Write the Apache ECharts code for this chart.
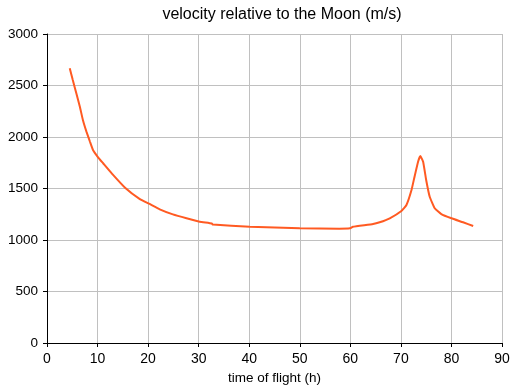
<!DOCTYPE html>
<html>
<head>
<meta charset="utf-8">
<script src="https://cdn.jsdelivr.net/npm/echarts@6/dist/echarts.min.js"></script>
<style>html,body{margin:0;padding:0;background:#fff;}#c{width:518px;height:391px;}</style>
</head>
<body>
<div id="c"></div>
<script>
var titleText = 'velocity relative to the Moon (m/s)';
var xName = 'time of flight (h)';
var time = [4.5, 5.1, 5.8, 6.5, 7.1, 7.8, 8.5, 9.1, 10.1, 11.1, 12.8, 15.5, 18.3, 20.3, 22.3, 24.9, 27.6, 30.2, 32.6, 32.8, 40.1, 50.0, 57.8, 59.9, 60.5, 64.5, 65.8, 67.8, 70.1, 71.1, 72.1, 72.7, 73.4, 73.85, 74.4, 75.0, 75.7, 76.7, 78.0, 80.0, 82.3, 84.3];
var velocity = [2667, 2553, 2424, 2294, 2165, 2052, 1954, 1874, 1803, 1745, 1647, 1505, 1400, 1350, 1298, 1249, 1211, 1178, 1160, 1150, 1129, 1113, 1110, 1113, 1128, 1155, 1172, 1211, 1282, 1340, 1485, 1615, 1760, 1815, 1760, 1583, 1420, 1308, 1252, 1211, 1172, 1136];
var xTicks = {min: 0, max: 90, interval: 10};
var yTicks = {min: 0, max: 3000, interval: 500};

var pts = time.map(function (t, i) { return [t, velocity[i]]; });
var font = 'Liberation Sans, Arial, Helvetica, sans-serif';
var chart = echarts.init(document.getElementById('c'), null, {renderer: 'canvas'});
chart.setOption({
  animation: false,
  backgroundColor: '#ffffff',
  title: {
    text: titleText, left: 277, top: 2, textAlign: 'center',
    textStyle: {fontFamily: font, fontSize: 16, fontWeight: 'normal', color: '#000'}
  },
  grid: {left: 47, right: 16, top: 34, bottom: 48, containLabel: false},
  xAxis: {
    type: 'value', min: xTicks.min, max: xTicks.max, interval: xTicks.interval,
    name: xName, nameLocation: 'middle', nameGap: 28,
    nameTextStyle: {fontFamily: font, fontSize: 13.5, color: '#000'},
    axisLine: {show: true, onZero: false, lineStyle: {color: '#000', width: 1}},
    axisTick: {show: true, length: 4, inside: false, lineStyle: {color: '#000'}},
    axisLabel: {fontFamily: font, fontSize: 14, color: '#000', margin: 9, formatter: function (v) { return String(v); }},
    splitLine: {show: true, lineStyle: {color: '#c0c0c0', width: 1}}
  },
  yAxis: {
    type: 'value', min: yTicks.min, max: yTicks.max, interval: yTicks.interval,
    axisLine: {show: true, onZero: false, lineStyle: {color: '#000', width: 1}},
    axisTick: {show: true, length: 4, inside: false, lineStyle: {color: '#000'}},
    axisLabel: {fontFamily: font, fontSize: 13.5, color: '#000', margin: 9, formatter: function (v) { return String(v); }},
    splitLine: {show: true, lineStyle: {color: '#c0c0c0', width: 1}}
  },
  series: [{
    type: 'line', data: pts, showSymbol: false, symbol: 'none',
    lineStyle: {color: '#ff5a22', width: 2}, smooth: 0.12
  }]
});
</script>
</body>
</html>
